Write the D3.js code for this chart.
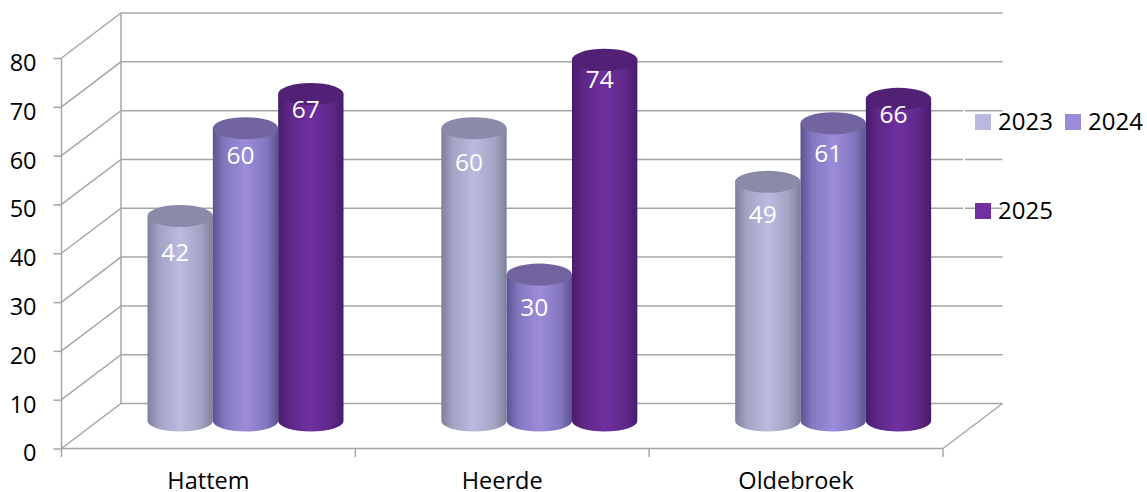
<!DOCTYPE html>
<html>
<head>
<meta charset="utf-8">
<script src="https://cdn.jsdelivr.net/npm/d3@7"></script>
<style>
html,body{margin:0;padding:0;background:#fff;}
svg{display:block;}
text{font-family:"Open Sans",sans-serif;}
</style>
</head>
<body>
<div id="board"></div>
<script>
var categories = ['Hattem','Heerde','Oldebroek'];
var seriesNames = ['2023','2024','2025'];
var values2023 = [42,60,49];
var values2024 = [60,30,61];
var values2025 = [67,74,66];
var yTicks = [0,10,20,30,40,50,60,70,80];

var allValues = [values2023,values2024,values2025];

// layout
var frontX0 = 61.5, frontX1 = 943;
var depthX = 59.5, depthY = 45;
var y = d3.scaleLinear().domain([0,80]).range([448.5,58]);
var x = d3.scaleBand().domain(categories).range([frontX0,frontX1]);
var inner = d3.scaleBand().domain(seriesNames).range([0,196]);
var groupOffset = 86;       // first cylinder starts this far into the band
var baseLift = 27.5;        // cylinder base sits back on the floor
var ry = 10.5;

var sideDark = ['#7f7f9c','#5c5290','#471c6c'];
var sideMid = ['#a3a3c4','#8477c0','#5e2788'];
var sideLight = ['#bbbbe0','#9c8cda','#7030a0'];
var topColor = ['#8a8aa9','#72659f','#512176'];
var swatch = ['#b9b9df','#9b8bd9','#7030a0'];

// the data labels were placed by hand in the original, per series then category
var labelDrop = [[36,34,32],[27,33,30],[15,19,15]];

var svg = d3.select('#board').append('svg')
    .attr('width',1147)
    .attr('height',492);

var defs = svg.append('defs');
seriesNames.forEach(function(s,i){
    var g = defs.append('linearGradient').attr('id','side'+i);
    g.append('stop').attr('offset','0%').attr('stop-color',sideDark[i]);
    g.append('stop').attr('offset','18%').attr('stop-color',sideMid[i]);
    g.append('stop').attr('offset','50%').attr('stop-color',sideLight[i]);
    g.append('stop').attr('offset','82%').attr('stop-color',sideMid[i]);
    g.append('stop').attr('offset','100%').attr('stop-color',sideDark[i]);
});

var gridColor = '#a6a6a6';

// walls
var grid = svg.append('g')
    .style('fill','none')
    .style('stroke',gridColor)
    .style('stroke-width',1.5);

yTicks.forEach(function(t){
    grid.append('path')
        .attr('d','M'+frontX0+','+y(t)+' L'+(frontX0+depthX)+','+(y(t)-depthY)+' L'+(frontX1+depthX)+','+(y(t)-depthY));
});
grid.append('line')
    .attr('x1',frontX0+depthX).attr('x2',frontX0+depthX)
    .attr('y1',y(0)-depthY).attr('y2',y(80)-depthY);
grid.append('line')
    .attr('x1',frontX1).attr('x2',frontX1+depthX)
    .attr('y1',y(0)).attr('y2',y(0)-depthY);

// axes
var yAxis = svg.append('g')
    .attr('transform','translate('+frontX0+',0)')
    .call(d3.axisLeft(y).tickValues(yTicks).tickSize(8).tickPadding(17).tickFormat(d3.format('d')));
var xAxis = svg.append('g')
    .attr('transform','translate(0,'+y(0)+')')
    .call(d3.axisBottom(x).tickSize(0).tickPadding(24));
xAxis.selectAll('.tick line').remove();
xAxis.selectAll('.xtick').data(d3.range(categories.length+1)).enter().append('line')
    .attr('x1',function(d){return frontX0+d*x.bandwidth();})
    .attr('x2',function(d){return frontX0+d*x.bandwidth();})
    .attr('y1',0).attr('y2',8.5);
[yAxis,xAxis].forEach(function(a){
    a.selectAll('path,line').style('stroke',gridColor).style('stroke-width',1.5);
    a.selectAll('text').style('font-size','23.5px').style('fill','#000');
});
yAxis.select('.domain').attr('d','M0,'+y(0)+'V'+y(80));
xAxis.select('.domain').attr('d','M'+frontX0+',0H'+frontX1);
yAxis.selectAll('text').attr('dy','0.53em');

// cylinders
categories.forEach(function(c,ci){
    seriesNames.forEach(function(s,si){
        var v = allValues[si][ci];
        var w = inner.bandwidth();
        var left = x(c)+groupOffset+inner(s);
        var cx = left+w/2;
        var base = y(0)-baseLift;
        var top = base-(y(0)-y(v));
        var g = svg.append('g');
        g.append('path')
            .attr('d','M'+left+','+top+' L'+left+','+base+
                ' A'+(w/2)+','+ry+' 0 0 0 '+(left+w)+','+base+
                ' L'+(left+w)+','+top+' Z')
            .style('fill','url(#side'+si+')');
        g.append('ellipse')
            .attr('cx',cx).attr('cy',top)
            .attr('rx',w/2).attr('ry',ry+0.5)
            .style('fill',topColor[si]);
        g.append('text')
            .attr('x',cx-5).attr('y',top+labelDrop[si][ci])
            .attr('dy','0.36em')
            .attr('text-anchor','middle')
            .style('font-size','24.5px')
            .style('fill','#fff')
            .text(v);
    });
});

// legend
var legendBoxes = [[975,114],[1065,114],[975,203]];
svg.append('rect').attr('x',963).attr('y',100).attr('width',2).attr('height',125).style('fill','#fff');
seriesNames.forEach(function(s,i){
    svg.append('rect')
        .attr('x',legendBoxes[i][0]).attr('y',legendBoxes[i][1])
        .attr('width',16).attr('height',16)
        .style('fill',swatch[i]);
    svg.append('text')
        .attr('x',legendBoxes[i][0]+23).attr('y',legendBoxes[i][1]+7)
        .attr('dy','0.36em')
        .style('font-size','24px')
        .style('fill','#000')
        .text(s);
});
</script>
</body>
</html>
